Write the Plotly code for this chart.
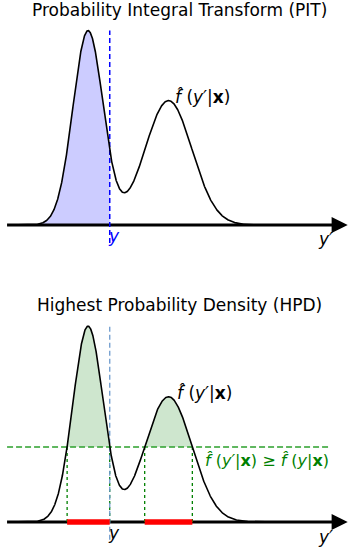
import numpy as np
import plotly.graph_objects as go

# mixture model (data units)
weights = [0.5, 0.5]
means = [0.0, 5.33]
sigmas = [1.0, 1.56]
y_obs = 1.44

titles = ["Probability Integral Transform (PIT)", "Highest Probability Density (HPD)"]


def dens(x):
    x = np.asarray(x, dtype=float)
    out = np.zeros_like(x)
    for w, m, s in zip(weights, means, sigmas):
        out += w * np.exp(-0.5 * ((x - m) / s) ** 2) / (s * np.sqrt(2 * np.pi))
    return out


xs = np.linspace(-5.3, 12.5, 1800)
fs = dens(xs)
t = float(dens([y_obs])[0])

FONT = "DejaVu Sans"
fig = go.Figure()

x_start, x_tip = -5.36, 17.2
AXW = 2.8

# ---------- top panel (PIT) ----------
mask = xs <= y_obs
xl = np.append(xs[mask], y_obs)
fl = np.append(fs[mask], t)
fig.add_trace(go.Scatter(x=np.concatenate([xl, [y_obs, xl[0]]]), y=np.concatenate([fl, [0, 0]]),
                         fill="toself", fillcolor="rgb(204,204,255)",
                         line=dict(width=0), mode="lines", yaxis="y", hoverinfo="skip"))
fig.add_trace(go.Scatter(x=[x_start, x_tip - 0.3], y=[0, 0], mode="lines",
                         line=dict(color="black", width=AXW), yaxis="y"))
fig.add_trace(go.Scatter(x=[y_obs, y_obs], y=[-0.0185, fs.max()], mode="lines",
                         line=dict(color="blue", width=1.5, dash="5px,3px"), yaxis="y"))
fig.add_trace(go.Scatter(x=xs, y=fs, mode="lines", line=dict(color="black", width=1.6), yaxis="y"))

# ---------- bottom panel (HPD) ----------
above = fs >= t
segs = []
i = 0
n = len(xs)
while i < n:
    if above[i]:
        j = i
        while j + 1 < n and above[j + 1]:
            j += 1
        segs.append((i, j))
        i = j + 1
    else:
        i += 1

for (a, b) in segs:
    xa, xb = xs[a], xs[b]
    xseg = np.concatenate([[xa], xs[a:b + 1], [xb]])
    fseg = np.concatenate([[t], fs[a:b + 1], [t]])
    fig.add_trace(go.Scatter(x=np.concatenate([xseg, xseg[::-1]]),
                             y=np.concatenate([fseg, np.full_like(fseg, t)]),
                             fill="toself", fillcolor="rgb(206,230,206)", line=dict(width=0),
                             mode="lines", yaxis="y2", hoverinfo="skip"))

fig.add_trace(go.Scatter(x=[x_start, x_tip - 0.3], y=[0, 0], mode="lines",
                         line=dict(color="black", width=AXW), yaxis="y2"))
for (a, b) in segs:
    for xv in (xs[a], xs[b]):
        fig.add_trace(go.Scatter(x=[xv, xv], y=[0, t], mode="lines",
                                 line=dict(color="green", width=1.3, dash="dot"), yaxis="y2"))

fig.add_trace(go.Scatter(x=[y_obs, y_obs], y=[-0.018, fs.max()], mode="lines",
                         line=dict(color="rgb(110,155,205)", width=1.3, dash="5px,3px"), yaxis="y2"))
fig.add_trace(go.Scatter(x=[-5.36, 16.0], y=[t, t], mode="lines",
                         line=dict(color="rgb(44,160,44)", width=1.5, dash="6px,3px"), yaxis="y2"))
fig.add_trace(go.Scatter(x=xs, y=fs, mode="lines", line=dict(color="black", width=1.6), yaxis="y2"))

for (a, b) in segs:
    fig.add_trace(go.Scatter(x=[xs[a], xs[b]], y=[0, 0], mode="lines",
                             line=dict(color="red", width=5.5), yaxis="y2"))

# arrow heads
for yr in ("y", "y2"):
    fig.add_annotation(x=x_tip, y=0, ax=x_tip - 1.0, ay=0, xref="x", yref=yr, axref="x", ayref=yr,
                       showarrow=True, arrowhead=2, arrowsize=1.15, arrowwidth=AXW,
                       arrowcolor="black", text="")

# texts
FS = 17
flabel = "<i>f̂</i> (<i>y′</i>|<b>x</b>)"
fig.add_annotation(x=7.6, y=0.1316, xref="x", yref="y", text=flabel, showarrow=False,
                   font=dict(family=FONT, size=FS, color="black"))
fig.add_annotation(x=7.7, y=0.1316, xref="x", yref="y2", text=flabel, showarrow=False,
                   font=dict(family=FONT, size=FS, color="black"))
fig.add_annotation(x=y_obs + 0.3, y=-0.0115, xref="x", yref="y", text="<i>y</i>", showarrow=False,
                   font=dict(family=FONT, size=FS, color="blue"))
fig.add_annotation(x=y_obs + 0.25, y=-0.0113, xref="x", yref="y2", text="<i>y</i>", showarrow=False,
                   font=dict(family=FONT, size=FS, color="black"))
fig.add_annotation(x=15.7, y=-0.0145, xref="x", yref="y", text="<i>y′</i>", showarrow=False,
                   font=dict(family=FONT, size=FS, color="black"))
fig.add_annotation(x=15.7, y=-0.0153, xref="x", yref="y2", text="<i>y′</i>", showarrow=False,
                   font=dict(family=FONT, size=FS, color="black"))
fig.add_annotation(x=11.85, y=0.063, xref="x", yref="y2",
                   text="<i>f̂</i> (<i>y′</i>|<b>x</b>) ≥ <i>f̂</i> (<i>y</i>|<b>x</b>)", showarrow=False,
                   font=dict(family=FONT, size=FS - 1, color="green"))

fig.add_annotation(x=180 / 350, y=1 - 10 / 548, xref="paper", yref="paper", yanchor="middle",
                   text=titles[0], showarrow=False, font=dict(family=FONT, size=17, color="black"))
fig.add_annotation(x=179 / 350, y=1 - 305 / 548, xref="paper", yref="paper", yanchor="middle",
                   text=titles[1], showarrow=False, font=dict(family=FONT, size=17, color="black"))

fig.update_layout(
    width=350, height=548, margin=dict(l=0, r=0, t=0, b=0),
    paper_bgcolor="white", plot_bgcolor="white", showlegend=False,
    xaxis=dict(range=[-88 / 15.1, 262 / 15.1], visible=False, fixedrange=True),
    yaxis=dict(range=[-323 / 973, 225 / 973], visible=False, domain=[0, 1]),
    yaxis2=dict(range=[-26 / 980, 522 / 980], visible=False, overlaying="y", domain=[0, 1]),
)

fig.write_html("out.html")
